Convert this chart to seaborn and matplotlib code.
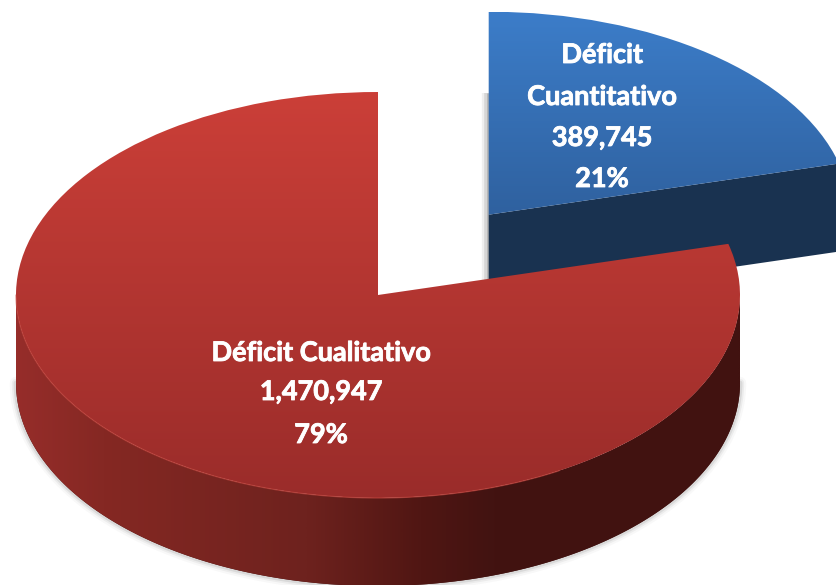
import numpy as np
import matplotlib
matplotlib.use("Agg")
import matplotlib.pyplot as plt
import matplotlib.patheffects as pe
from matplotlib.colors import LinearSegmentedColormap
from matplotlib.patches import Polygon
import seaborn as sns

categories = ["Déficit Cualitativo", "Déficit Cuantitativo"]
values = [1470947, 389745]
value_labels = ["1,470,947", "389,745"]
pct_labels = ["79%", "21%"]

W, H = 837, 585
CX, CY, RX, RY = 378, 295, 362, 203
DEPTH_PX = 88

sns.set_theme(style="white")
plt.rcParams["font.family"] = ["Lato", "DejaVu Sans"]

fig = plt.figure(figsize=(W / 100, H / 100), dpi=100, facecolor="white")
ax = fig.add_axes([0, 0, 1, 1])

ux = lambda px: (px - CX) / RX
uy = lambda py: (CY - py) / RY
depth = DEPTH_PX / RY
xlim = (ux(0), ux(W))
ylim = (uy(H), uy(0))

wedges, _ = ax.pie(values, startangle=90, explode=[0, 0.5], radius=1,
                   colors=["none", "none"], wedgeprops={"linewidth": 0})
red, blue = wedges


def gradient(colors, extent, horizontal, clip, z):
    cmap = LinearSegmentedColormap.from_list("g", colors)
    g = np.linspace(0, 1, 256)
    arr = g[None, :] if horizontal else g[:, None]
    im = ax.imshow(arr, cmap=cmap, extent=extent, origin="upper", aspect="auto",
                   interpolation="bilinear", zorder=z, vmin=0, vmax=1)
    im.set_clip_path(clip)
    return im


def rim(w, a0, a1):
    t = np.radians(np.linspace(a0, a1, 200))
    return w.center[0] + w.r * np.cos(t), w.center[1] + w.r * np.sin(t)


# soft shadow halo around the pie walls
rx, ry = rim(red, 180, 360)
halo = np.column_stack([np.r_[rx, rx[::-1]], np.r_[ry, ry[::-1] - depth]])
for lw, a in [(9, 0.04), (6, 0.07), (3.5, 0.12)]:
    ax.plot(rx, ry - depth, color="#555555", lw=lw, alpha=a, zorder=1,
            solid_capstyle="round")

# shadow to the left of the blue slice
for k, a in [(6, 0.10), (4, 0.18), (2, 0.30)]:
    ax.plot([blue.center[0] - k / RX / 2] * 2,
            [blue.center[1] + blue.r * 0.6, blue.center[1] - depth],
            color="#666666", lw=k, alpha=a, zorder=1, solid_capstyle="butt")

# blue cut wall
edge_angle = blue.theta1 % 360
bx, by = rim(blue, 0, edge_angle)
cx, cy = blue.center
wall = np.column_stack([
    np.r_[cx, bx[::-1], bx, cx],
    np.r_[cy, by[::-1], by - depth, cy - depth],
])
ax.add_patch(Polygon(wall, closed=True, facecolor="#193250", edgecolor="none", zorder=2))

# blue top face
gradient(["#3C7DC9", "#2F619F"],
         (cx - 1, cx + 1, cy, cy + 1), False, blue, 3)

# red rim wall
side = Polygon(halo, closed=True, transform=ax.transData)
ax.add_patch(Polygon(halo, closed=True, facecolor="#401210", edgecolor="none", zorder=4))
stops = [(0.0, "#962D2A"), (0.12, "#852823"), (0.40, "#6E221E"),
         (0.56, "#501613"), (0.66, "#421311"), (1.0, "#411210")]
cmap_side = LinearSegmentedColormap.from_list("side", stops)
g = np.linspace(0, 1, 512)[None, :]
im = ax.imshow(g, cmap=cmap_side, extent=(-1, 1, -1 - depth, 0), aspect="auto",
               interpolation="bilinear", zorder=5)
im.set_clip_path(side)

# red top face
gradient(["#CB3F38", "#9A2C2A"], (-1, 1, -1, 1), False, red, 6)
ax.plot(*rim(red, 180, 300), color="#C8473F", lw=0.9, alpha=0.6, zorder=7)

ax.set_xlim(*xlim)
ax.set_ylim(*ylim)
ax.set_aspect("auto")
ax.axis("off")


def label(x, y, s):
    t = fig.text(x / W, 1 - y / H, s, color="white", fontsize=19.5, fontweight="bold",
                 ha="center", va="center", zorder=10)
    t.set_path_effects([pe.withStroke(linewidth=0.6, foreground="white")])


for y, s in zip([353, 392, 435], [categories[0], value_labels[0], pct_labels[0]]):
    label(321, y, s)
for y, s in zip([55, 97, 138, 179],
                categories[1].split(" ") + [value_labels[1], pct_labels[1]]):
    label(602, y, s)

fig.savefig("out.png", dpi=100, facecolor="white")
